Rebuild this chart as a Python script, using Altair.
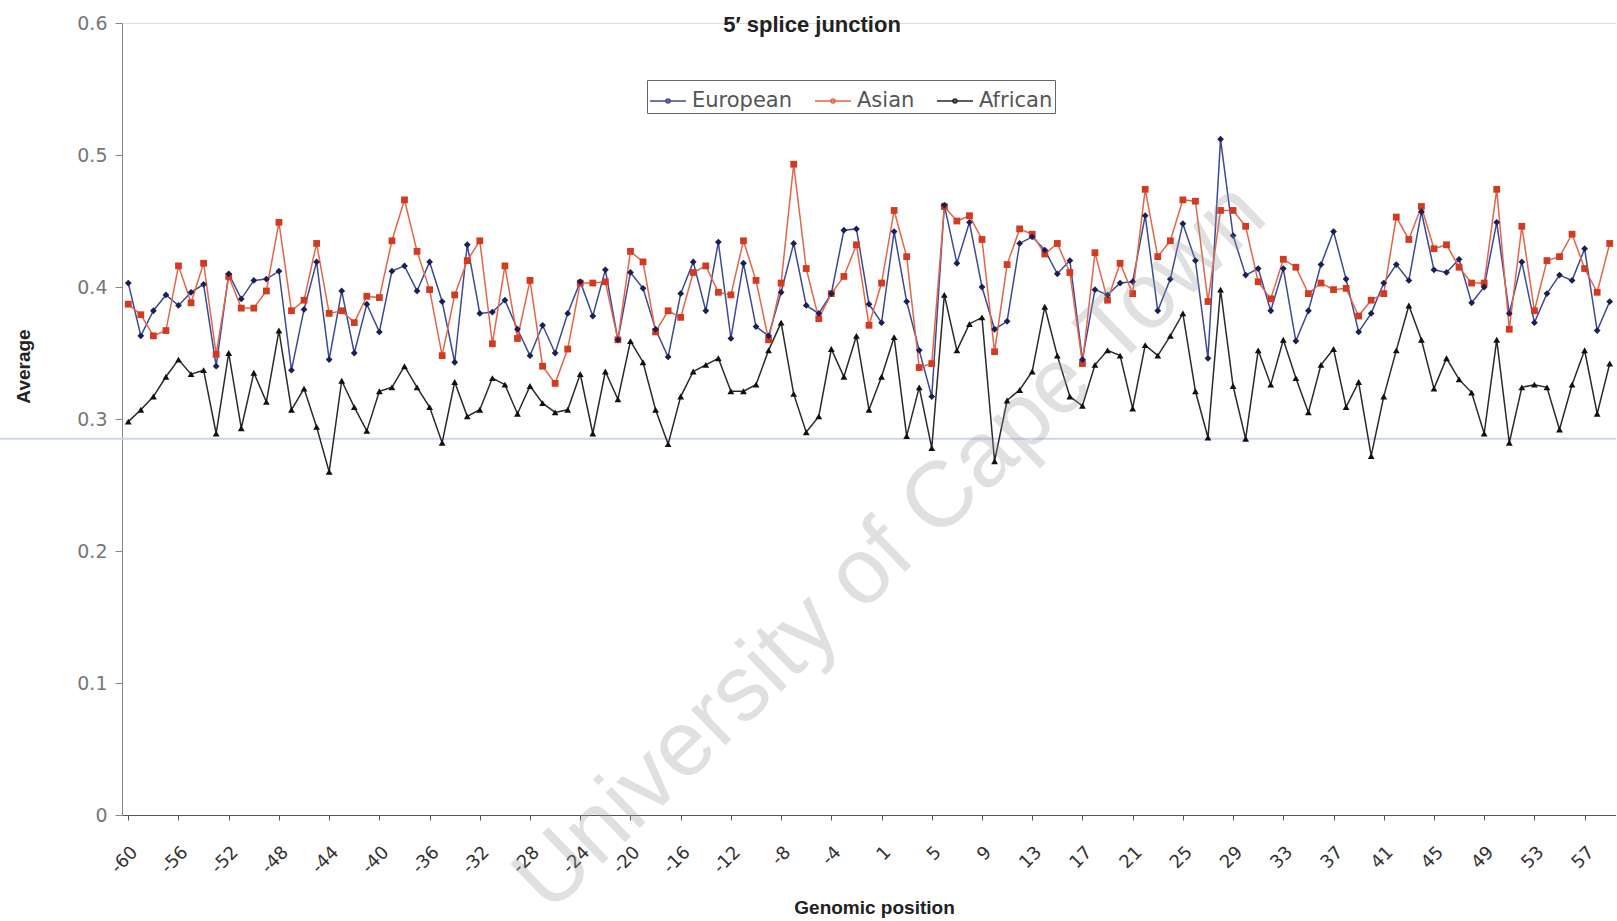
import altair as alt
import pandas as pd

# Genomic positions around the 5' splice junction (there is no position 0)
positions = list(range(-60, 0)) + list(range(1, 60))

european = [
    0.403, 0.363, 0.382, 0.394, 0.386, 0.396, 0.402, 0.340, 0.410, 0.391,
    0.405, 0.406, 0.412, 0.337, 0.383, 0.419, 0.345, 0.397, 0.350, 0.387,
    0.366, 0.412, 0.416, 0.397, 0.419, 0.389, 0.343, 0.432, 0.380, 0.381,
    0.390, 0.368, 0.348, 0.371, 0.350, 0.380, 0.404, 0.378, 0.413, 0.360,
    0.411, 0.399, 0.368, 0.347, 0.395, 0.419, 0.382, 0.434, 0.361, 0.418,
    0.370, 0.363, 0.396, 0.433, 0.386, 0.380, 0.395, 0.443, 0.444, 0.387,
    0.373, 0.442, 0.389, 0.352, 0.317, 0.462, 0.418, 0.449, 0.400, 0.368,
    0.374, 0.433, 0.438, 0.428, 0.410, 0.420, 0.345, 0.398, 0.394, 0.403,
    0.404, 0.454, 0.382, 0.406, 0.448, 0.420, 0.346, 0.512, 0.439, 0.409,
    0.414, 0.382, 0.414, 0.359, 0.382, 0.417, 0.442, 0.406, 0.366, 0.380,
    0.403, 0.417, 0.405, 0.457, 0.413, 0.411, 0.421, 0.388, 0.400, 0.449,
    0.380, 0.419, 0.373, 0.395, 0.409, 0.405, 0.429, 0.367, 0.389,
]

asian = [
    0.387, 0.379, 0.363, 0.367, 0.416, 0.388, 0.418, 0.349, 0.408, 0.384,
    0.384, 0.397, 0.449, 0.382, 0.390, 0.433, 0.380, 0.382, 0.373, 0.393,
    0.392, 0.435, 0.466, 0.427, 0.398, 0.348, 0.394, 0.420, 0.435, 0.357,
    0.416, 0.361, 0.405, 0.340, 0.327, 0.353, 0.403, 0.403, 0.404, 0.360,
    0.427, 0.419, 0.366, 0.382, 0.377, 0.411, 0.416, 0.396, 0.394, 0.435,
    0.405, 0.360, 0.403, 0.493, 0.414, 0.376, 0.395, 0.408, 0.432, 0.371,
    0.403, 0.458, 0.423, 0.339, 0.342, 0.461, 0.450, 0.454, 0.436, 0.351,
    0.417, 0.444, 0.440, 0.425, 0.433, 0.411, 0.342, 0.426, 0.390, 0.418,
    0.395, 0.474, 0.423, 0.435, 0.466, 0.465, 0.389, 0.458, 0.458, 0.446,
    0.404, 0.391, 0.421, 0.415, 0.395, 0.403, 0.398, 0.399, 0.378, 0.390,
    0.395, 0.453, 0.436, 0.461, 0.429, 0.432, 0.415, 0.403, 0.403, 0.474,
    0.368, 0.446, 0.382, 0.420, 0.423, 0.440, 0.414, 0.396, 0.433,
]

african = [
    0.298, 0.307, 0.317, 0.332, 0.345, 0.334, 0.337, 0.289, 0.350, 0.293,
    0.335, 0.313, 0.367, 0.307, 0.323, 0.294, 0.260, 0.329, 0.309, 0.291,
    0.321, 0.324, 0.340, 0.324, 0.309, 0.282, 0.328, 0.302, 0.307, 0.331,
    0.326, 0.304, 0.325, 0.312, 0.305, 0.307, 0.334, 0.289, 0.336, 0.315,
    0.359, 0.343, 0.307, 0.281, 0.317, 0.336, 0.341, 0.346, 0.321, 0.321,
    0.326, 0.352, 0.373, 0.319, 0.290, 0.302, 0.353, 0.332, 0.363, 0.307,
    0.332, 0.362, 0.287, 0.324, 0.278, 0.394, 0.352, 0.372, 0.377, 0.268,
    0.314, 0.322, 0.336, 0.385, 0.348, 0.317, 0.310, 0.341, 0.352, 0.348,
    0.308, 0.356, 0.348, 0.363, 0.380, 0.321, 0.286, 0.398, 0.325, 0.285,
    0.352, 0.326, 0.360, 0.331, 0.305, 0.341, 0.353, 0.309, 0.328, 0.272,
    0.317, 0.352, 0.386, 0.360, 0.323, 0.346, 0.330, 0.320, 0.289, 0.360,
    0.282, 0.324, 0.326, 0.324, 0.292, 0.326, 0.352, 0.304, 0.342,
]

series_names = ["European", "Asian", "African"]
line_colors = ["#3b4a9a", "#e2664a", "#2a2a2a"]
marker_colors = ["#1c1f55", "#d33a22", "#101010"]
marker_shapes = ["diamond", "square", "triangle-up"]
y_ticks = [0, 0.1, 0.2, 0.3, 0.4, 0.5, 0.6]
baseline_level = 0.285
watermark = "University of Cape Town"

rows = []
for name, vals in zip(series_names, [european, asian, african]):
    for i, (pos, v) in enumerate(zip(positions, vals)):
        rows.append({"idx": i, "position": pos, "series": name, "value": v})
df = pd.DataFrame(rows)

W, H = 1494, 792
n = len(positions)

x_enc = alt.X(
    "idx:Q",
    scale=alt.Scale(domain=[-0.5, n - 0.5], nice=False, zero=False),
    axis=alt.Axis(
        values=list(range(n)),
        labelExpr="datum.value % 4 == 0 ? (datum.value < 60 ? datum.value - 60 : datum.value - 59) : ''",
        labelAngle=315,
        labelFontSize=18,
        labelFont="DejaVu Sans",
        labelColor="#333333",
        labelPadding=23,
        labelOverlap=False,
        labelFlush=False,
        tickSize=5,
        tickColor="#555555",
        domainColor="#555555",
        grid=False,
        title="Genomic position",
        titleFont="Liberation Sans",
        titleFontSize=19,
        titleFontWeight="bold",
        titleColor="#222222",
        titleX=752,
        titleY=92,
        titleAlign="center",
        titleBaseline="middle",
    ),
)

y_enc = alt.Y(
    "value:Q",
    scale=alt.Scale(domain=[0, 0.6], nice=False, zero=True),
    axis=alt.Axis(
        values=y_ticks,
        labelExpr="datum.value == 0 ? '0' : format(datum.value, '.1f')",
        labelFontSize=19,
        labelFont="DejaVu Sans",
        labelColor="#777777",
        labelPadding=8,
        tickSize=7,
        tickColor="#888888",
        domainColor="#888888",
        grid=False,
        title="Average",
        titleFont="Liberation Sans",
        titleFontSize=19,
        titleFontWeight="bold",
        titleColor="#222222",
        titleX=-99,
        titleY=343,
        titleAngle=270,
        titleAlign="center",
        titleBaseline="middle",
    ),
)

legend_symbol = "M-1,0L1,0M-0.11,0A0.11,0.11,0,1,1,0.11,0A0.11,0.11,0,1,1,-0.11,0Z"

lines = alt.Chart(df).mark_line(strokeWidth=1.5).encode(
    x=x_enc,
    y=y_enc,
    stroke=alt.Stroke(
        "series:N",
        scale=alt.Scale(domain=series_names, range=line_colors),
        sort=series_names,
        legend=alt.Legend(
            orient="none",
            legendX=525,
            legendY=57,
            direction="horizontal",
            title=None,
            labelFont="DejaVu Sans",
            labelFontSize=21,
            labelColor="#555555",
            labelOffset=5,
            symbolType=legend_symbol,
            symbolSize=1300,
            symbolStrokeWidth=1.6,
            columnPadding=18,
            padding=2,
            strokeColor="#666666",
            fillColor="white",
        ),
    ),
)

# one marker layer per population, each with its own fixed shape and colour
marker_layers = [
    alt.Chart(df)
    .transform_filter(alt.datum.series == name)
    .mark_point(filled=True, opacity=1, size=46, shape=shape, color=color)
    .encode(x="idx:Q", y="value:Q")
    for name, shape, color in zip(series_names, marker_shapes, marker_colors)
]

# faint horizontal stroke running across the whole figure
guide = alt.Chart(pd.DataFrame({"value": [baseline_level]})).mark_rule(
    color="#c9d5f0", strokeWidth=2
).encode(y="value:Q", x=alt.value(-122), x2=alt.value(W))

mark_text = alt.Chart(
    pd.DataFrame({"idx": [60.7], "value": [0.203], "text": [watermark]})
).mark_text(
    angle=316, fontSize=93, font="Liberation Sans", color="#9a9a9a", opacity=0.3
).encode(x="idx:Q", y="value:Q", text="text:N")

chart = (
    alt.layer(guide, lines, *reversed(marker_layers), mark_text)
    .properties(
        width=W,
        height=H,
        autosize=alt.AutoSizeParams(type="none"),
        padding={"left": 122, "top": 23, "right": 0, "bottom": 106},
        title=alt.TitleParams(
            "5′ splice junction",
            font="Liberation Sans",
            fontSize=22,
            fontWeight="bold",
            color="#222222",
            anchor="middle",
            frame="group",
            offset=0,
            baseline="alphabetic",
            dx=-57,
            dy=40,
        ),
    )
    .configure_view(stroke=None)
    .configure(background="white")
)

chart.save("out.html", embed_options={"renderer": "svg", "actions": False})
